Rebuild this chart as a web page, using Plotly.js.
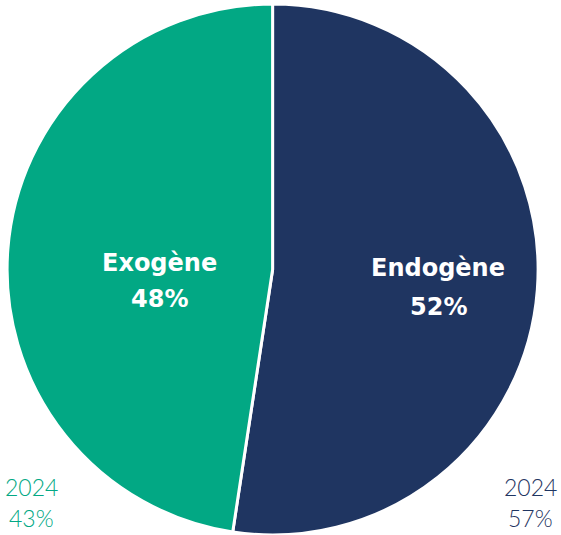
<!DOCTYPE html>
<html><head><meta charset="utf-8">
<script src="https://cdn.plot.ly/plotly-3.0.1.min.js"></script>
<style>html,body{margin:0;padding:0;overflow:hidden;background:#fff}</style>
</head><body><div id="chart" style="width:561px;height:535px"></div>
<script>
const labels = ["Endogène", "Exogène"];
const values = [52.4, 47.6];
const colors = ["#1F3561", "#02A884"];
const prevYear = "2024";
const prevValues = [57, 43];

const W = 561, H = 535;
const data = [{
  type: "pie",
  labels: labels,
  values: values,
  sort: false,
  direction: "clockwise",
  rotation: 0,
  marker: {colors: colors, line: {color: "#ffffff", width: 3}},
  textinfo: "none",
  hoverinfo: "none",
  domain: {x: [6.8/W, 538.4/W], y: [0, (H-4)/H]},
  showlegend: false
}];

const total = values.reduce((a, b) => a + b, 0);
const pct = values.map(v => Math.round(v / total * 100) + "%");

// label positions (px from left/top) for each slice's text: [x, yLabel, yValue]
const labelPos = [[438, 268, 306.5], [159, 263, 298.5]];
const annotations = [];
labels.forEach((lab, i) => {
  const [px, py1, py2] = labelPos[i];
  const f = {family: "DejaVu Sans, sans-serif", size: 24, color: "#ffffff", weight: 700};
  annotations.push({text: "<b>" + lab + "</b>", x: px / W, y: (H - py1) / H, xref: "paper", yref: "paper",
    xanchor: "center", yanchor: "middle", showarrow: false, font: f});
  annotations.push({text: "<b>" + pct[i] + "</b>", x: px / W, y: (H - py2) / H, xref: "paper", yref: "paper",
    xanchor: "center", yanchor: "middle", showarrow: false, font: f});
});
// previous year comparison
const prevPos = [[530, 487, 518], [31, 487, 518]];
labels.forEach((lab, i) => {
  const [px, py1, py2] = prevPos[i];
  const f = {family: "Lato, sans-serif", size: 23, color: colors[i], weight: 300};
  annotations.push({text: prevYear, x: px / W, y: (H - py1) / H, xref: "paper", yref: "paper",
    xanchor: "center", yanchor: "middle", showarrow: false, font: f});
  annotations.push({text: prevValues[i] + "%", x: px / W, y: (H - py2) / H, xref: "paper", yref: "paper",
    xanchor: "center", yanchor: "middle", showarrow: false, font: f});
});

const layout = {
  width: W, height: H,
  margin: {l: 0, r: 0, t: 0, b: 0},
  paper_bgcolor: "#ffffff",
  showlegend: false,
  annotations: annotations
};
Plotly.newPlot("chart", data, layout, {displayModeBar: false, staticPlot: true});
</script></body></html>
